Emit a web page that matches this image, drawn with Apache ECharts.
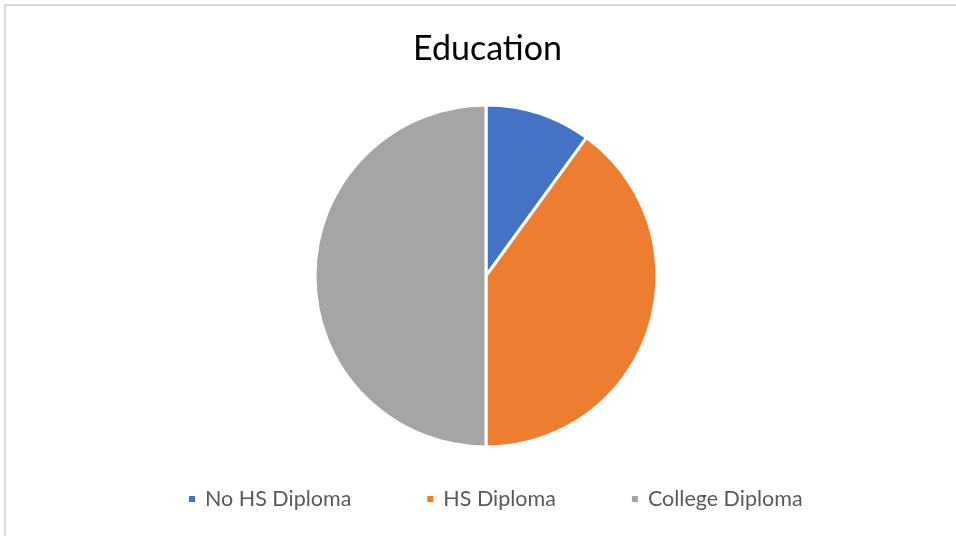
<!DOCTYPE html>
<html><head><meta charset="utf-8">
<script src="https://cdn.jsdelivr.net/npm/echarts@6/dist/echarts.min.js"></script>
<style>html,body{margin:0;padding:0;background:#fff}#c{width:956px;height:536px}</style>
</head><body><div id="c"></div>
<script>
const categories = ["No HS Diploma", "HS Diploma", "College Diploma"];
const values = [10, 40, 50];
const colors = ["#4472C4", "#ED7D31", "#A5A5A5"];
const chart = echarts.init(document.getElementById('c'), null, {renderer: 'canvas'});
chart.setOption({
  animation: false,
  backgroundColor: '#fff',
  graphic: [{type: 'rect', shape: {x: 5, y: 5, width: 1000, height: 600}, style: {fill: 'none', stroke: '#d9d9d9', lineWidth: 2}, silent: true}],
  title: {text: 'Education', left: 408, top: 27, textStyle: {fontFamily: 'Lato', fontSize: 34, fontWeight: 'normal', color: '#000'}},
  legend: {bottom: 21, left: 182, itemWidth: 8, itemHeight: 8, itemGap: 74, icon: 'rect',
    textStyle: {fontFamily: 'Lato', fontSize: 21.5, color: '#595959', padding: [0,0,0,4]},
    data: categories},
  series: [{type: 'pie', center: [486, 276], radius: 171, startAngle: 90, clockwise: true,
    label: {show: false}, labelLine: {show: false},
    itemStyle: {borderColor: '#fff', borderWidth: 3},
    data: categories.map((c, i) => ({name: c, value: values[i], itemStyle: {color: colors[i]}}))}]
});
</script></body></html>
